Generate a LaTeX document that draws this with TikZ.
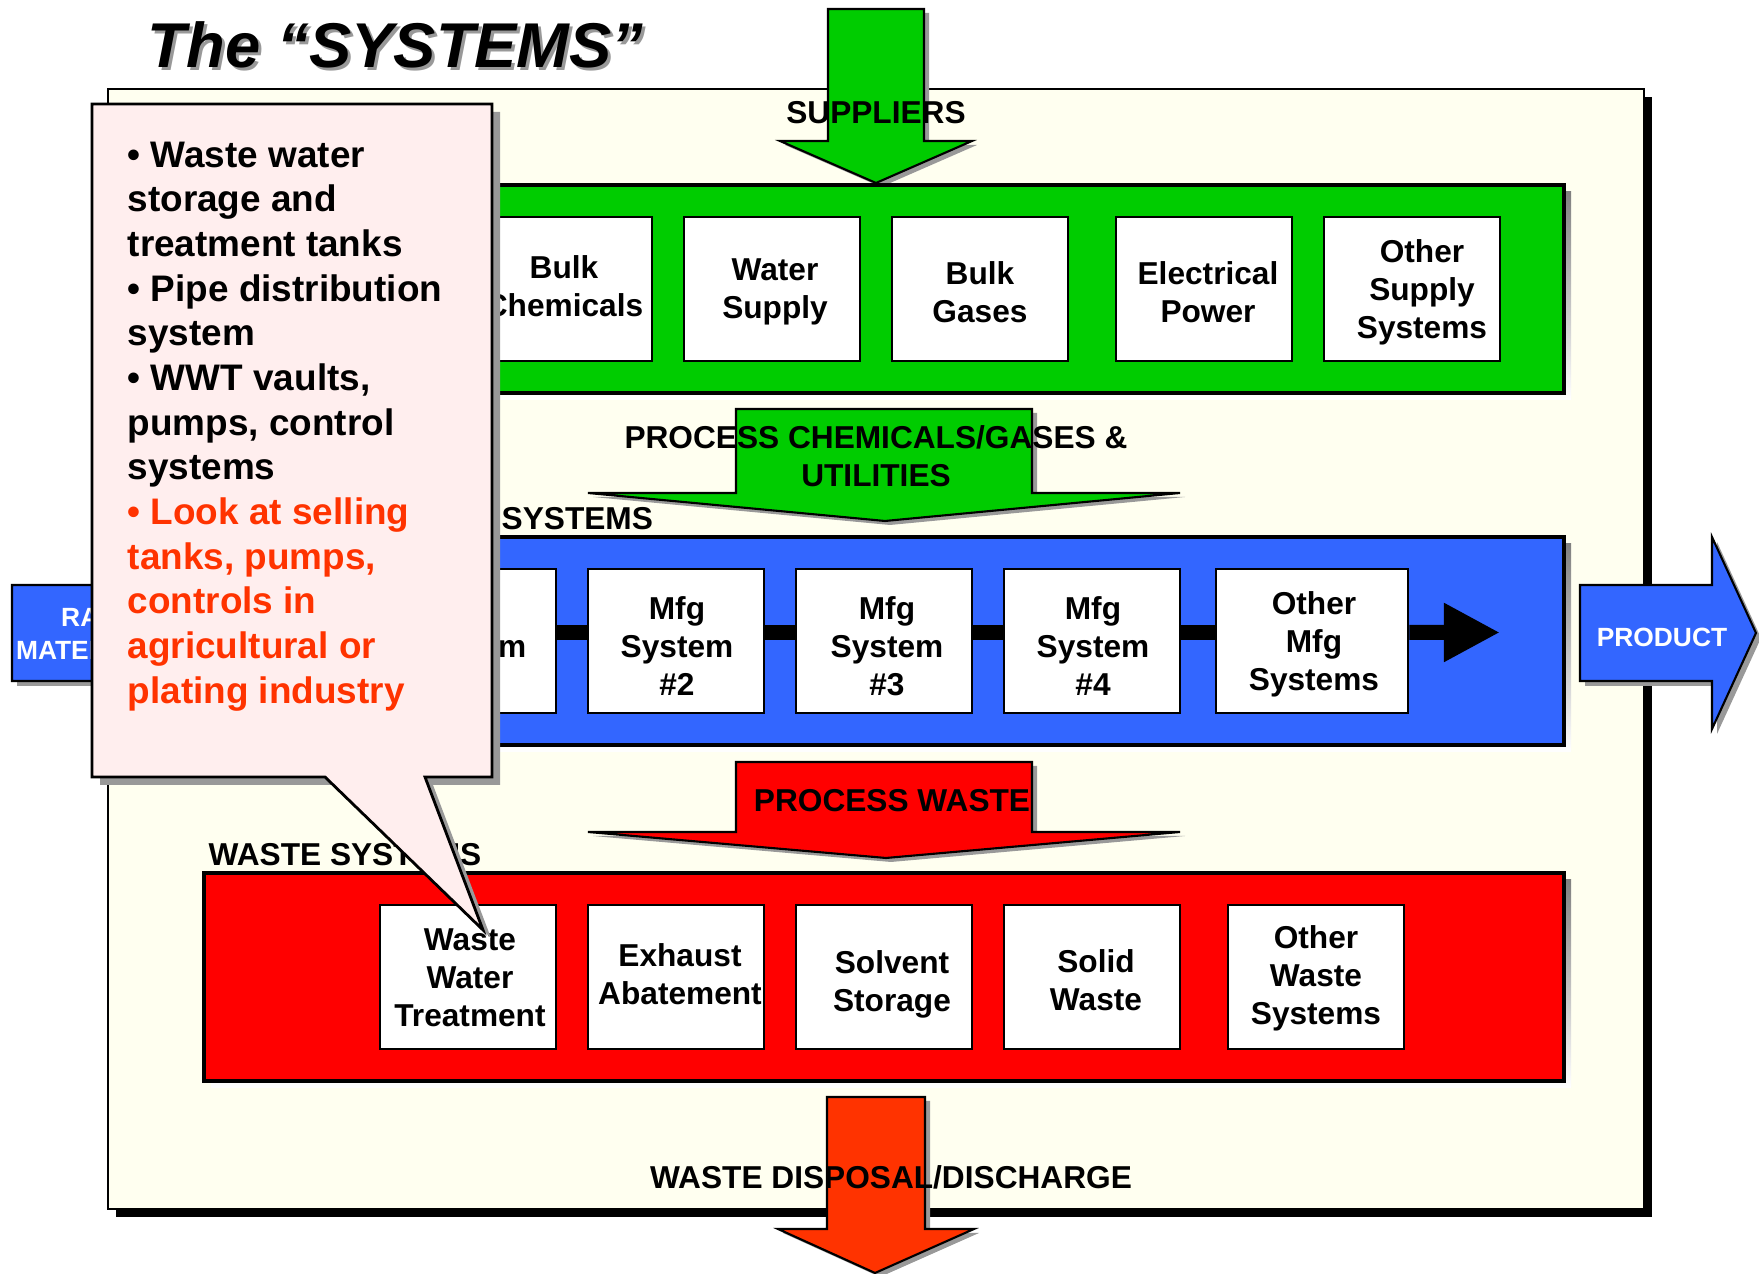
\documentclass[tikz,border=0pt]{standalone}
\usepackage{fontspec}
\setmainfont{Liberation Sans}
\usetikzlibrary{arrows.meta}

\definecolor{cream}{RGB}{255,255,240}
\definecolor{supgreen}{RGB}{0,204,0}
\definecolor{mfgblue}{RGB}{51,102,255}
\definecolor{wastered}{RGB}{255,0,0}
\definecolor{dispred}{RGB}{255,51,0}
\definecolor{notepink}{RGB}{255,238,238}
\definecolor{shade}{RGB}{153,153,153}
\definecolor{hotnote}{RGB}{255,51,0}

% block arrow outlines, drawn once as shadow and once in colour
\newcommand\supplyArrow[1]{\path[#1] (828,9) -- (924,9) -- (924,141) -- (972,141) -- (876,183) -- (780,141) -- (828,141) -- cycle;}
\newcommand\chemArrow[1]{\path[#1] (736,409) -- (1032,409) -- (1032,493) -- (1180,493) -- (885,521) -- (588,493) -- (736,493) -- cycle;}
\newcommand\pwasteArrow[1]{\path[#1] (736,762) -- (1032,762) -- (1032,832) -- (1180,832) -- (886,858) -- (588,832) -- (736,832) -- cycle;}
\newcommand\disposalArrow[1]{\path[#1] (827,1097) -- (925,1097) -- (925,1229) -- (974,1229) -- (875,1273) -- (778,1229) -- (827,1229) -- cycle;}
\newcommand\productArrow[1]{\path[#1] (1580,585) -- (1712,585) -- (1712,537) -- (1756,633) -- (1712,729) -- (1712,681) -- (1580,681) -- cycle;}
\newcommand\rawArrow[1]{\path[#1] (12,585) -- (150,585) -- (150,537) -- (195,633) -- (150,729) -- (150,681) -- (12,681) -- cycle;}
\newcommand\calloutShape[1]{\path[#1] (92,104) -- (492,104) -- (492,777) -- (425,777) -- (483,930) -- (325,777) -- (92,777) -- cycle;}

\begin{document}
\begin{tikzpicture}[x=0.01cm,y=-0.01cm,
  sysbox/.style={draw=black, line width=0.8pt, fill=white, minimum width=1.76cm,
    minimum height=1.44cm, inner sep=0pt},
  boxtext/.style={inner sep=0pt, align=center, font=\bfseries\fontsize{9}{10.8}\selectfont},
  lbltext/.style={inner sep=0pt, align=center, font=\bfseries\fontsize{9}{10.8}\selectfont},
  whitetext/.style={inner sep=0pt, align=center, text=white, font=\bfseries\fontsize{7.5}{9.4}\selectfont},
  panelbox/.style={draw=black, line width=0.9pt},
  blockarrow/.style={draw=black, line width=0.6pt},
  shadefill/.style={fill=shade},
  link/.style={line width=0.15cm}]

\useasboundingbox (0,0) rectangle (1759,1274);

% main frame with its black shadow
\fill[black] (116,97) rectangle (1652,1217);
\draw[line width=0.8pt, fill=cream] (108,89) rectangle (1644,1209);

% suppliers
\supplyArrow{shadefill, shift={(5,4)}}
\supplyArrow{blockarrow, fill=supgreen}
\node[lbltext] (suppliers) at (876,113) {SUPPLIERS};

\fill[shade] (211,192) rectangle (1571,400);
\draw[panelbox, fill=supgreen] (204,185) rectangle (1564,393);
\node[sysbox] (s1) at (564,289) {};
\node[sysbox] (s2) at (772,289) {};
\node[sysbox] (s3) at (980,289) {};
\node[sysbox] (s4) at (1204,289) {};
\node[sysbox] (s5) at (1412,289) {};
\node[boxtext] (s1t) at ([shift={(0,-3)}]s1.center) {Bulk\\Chemicals};
\node[boxtext] (s2t) at ([shift={(3,3)}]s2.center) {Water\\Supply};
\node[boxtext] (s3t) at ([shift={(0,3)}]s3.center) {Bulk\\Gases};
\node[boxtext] (s4t) at ([shift={(4,3)}]s4.center) {Electrical\\Power};
\node[boxtext] (s5t) at ([shift={(10,3)}]s5.center) {Other\\Supply\\Systems};

% process chemicals
\chemArrow{shadefill, shift={(5,4)}}
\chemArrow{blockarrow, fill=supgreen}
\node[lbltext] (chems) at (876,456) {PROCESS CHEMICALS/GASES \&\\UTILITIES};

% manufacturing
\node[lbltext, anchor=west] (mfglbl) at (501,519) {SYSTEMS};
\fill[shade] (211,544) rectangle (1571,752);
\draw[panelbox, fill=mfgblue] (204,537) rectangle (1564,745);
\node[sysbox] (m1) at (468,641) {};
\node[sysbox] (m2) at (676,641) {};
\node[sysbox] (m3) at (884,641) {};
\node[sysbox] (m4) at (1092,641) {};
\node[sysbox, minimum width=1.92cm] (m5) at (1312,641) {};
\node[boxtext] (m1t) at ([shift={(2,5)}]m1.center) {Mfg\\System\\\#1};
\node[boxtext] (m2t) at ([shift={(1,5)}]m2.center) {Mfg\\System\\\#2};
\node[boxtext] (m3t) at ([shift={(3,5)}]m3.center) {Mfg\\System\\\#3};
\node[boxtext] (m4t) at ([shift={(1,5)}]m4.center) {Mfg\\System\\\#4};
\node[boxtext] (m5t) at ([shift={(2,3)}]m5.center) {Other\\Mfg\\Systems};
\foreach \a/\b in {m1/m2,m2/m3,m3/m4,m4/m5}
  \draw[link] ([yshift=0.085cm]\a.east) -- ([yshift=0.085cm]\b.west);
\coordinate (mfgout) at (1500,632.5);
\draw[link, -{Triangle[length=0.56cm,width=0.55cm]}] ([yshift=0.085cm]m5.east) -- (mfgout);

% raw materials in, product out
\rawArrow{shadefill, shift={(5,5)}}
\rawArrow{blockarrow, fill=mfgblue}
\node[whitetext] (raw) at (92,634) {RAW\\MATERIALS};
\productArrow{shadefill, shift={(5,5)}}
\productArrow{blockarrow, fill=mfgblue}
\node[whitetext] (product) at (1662,637) {PRODUCT};

% process waste
\pwasteArrow{shadefill, shift={(5,4)}}
\pwasteArrow{blockarrow, fill=wastered}
\node[lbltext] (pwaste) at (892,801) {PROCESS WASTE};

% waste systems
\node[lbltext, anchor=west] (wastelbl) at (208,855) {WASTE SYSTEMS};
\fill[shade] (211,880) rectangle (1571,1088);
\draw[panelbox, fill=wastered] (204,873) rectangle (1564,1081);
\node[sysbox] (w1) at (468,977) {};
\node[sysbox] (w2) at (676,977) {};
\node[sysbox] (w3) at (884,977) {};
\node[sysbox] (w4) at (1092,977) {};
\node[sysbox] (w5) at (1316,977) {};
\node[boxtext] (w1t) at ([shift={(2,1)}]w1.center) {Waste\\Water\\Treatment};
\node[boxtext] (w2t) at ([shift={(4,-3)}]w2.center) {Exhaust\\Abatement};
\node[boxtext] (w3t) at ([shift={(8,7)}]w3.center) {Solvent\\Storage};
\node[boxtext] (w4t) at ([shift={(4,3)}]w4.center) {Solid\\Waste};
\node[boxtext] (w5t) at ([shift={(0,1)}]w5.center) {Other\\Waste\\Systems};

% disposal
\disposalArrow{shadefill, shift={(5,4)}}
\disposalArrow{blockarrow, fill=dispred}
\node[lbltext] (disposal) at (891,1177) {WASTE DISPOSAL/DISCHARGE};

% title
\node[anchor=base west, inner sep=0pt, text=shade, font=\bfseries\itshape\fontsize{18}{20}\selectfont] (titleshade) at (150,71) {The “SYSTEMS”};
\node[anchor=base west, inner sep=0pt, font=\bfseries\itshape\fontsize{18}{20}\selectfont] (title) at (147,68) {The “SYSTEMS”};

% note callout pointing at waste water treatment
\calloutShape{shadefill, shift={(8,8)}}
\calloutShape{draw=black, line width=0.8pt, fill=notepink}
\node[anchor=north west, inner sep=0pt, align=left, font=\bfseries\fontsize{10.5}{12.7}\selectfont] (notes) at (127,141)
 {• Waste water\\storage and\\treatment tanks\\• Pipe distribution\\system\\• WWT vaults,\\pumps, control\\systems\\
  {\color{hotnote}• Look at selling}\\{\color{hotnote}tanks, pumps,}\\{\color{hotnote}controls in}\\{\color{hotnote}agricultural or}\\{\color{hotnote}plating industry}};

\end{tikzpicture}
\end{document}
